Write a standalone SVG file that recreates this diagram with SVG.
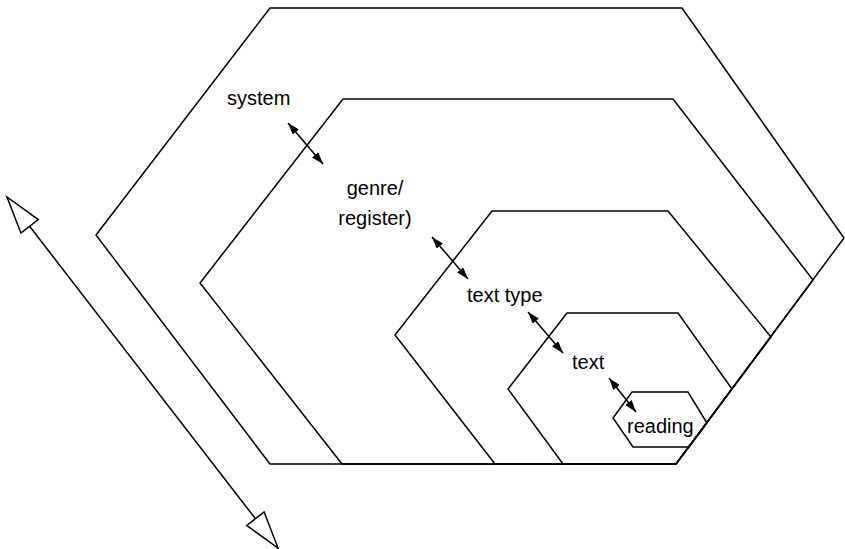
<svg xmlns="http://www.w3.org/2000/svg" width="845" height="549" viewBox="0 0 845 549">
<style>
.hex{fill:none;stroke:#000;stroke-width:1.5;stroke-linejoin:miter}
.lbl{font-family:"Liberation Sans",Arial,sans-serif;font-size:20px;fill:#000}
.sa{stroke:#000;stroke-width:1.5;fill:none;marker-start:url(#sh);marker-end:url(#sh)}
.ba{stroke:#000;stroke-width:1.5;fill:none;marker-start:url(#oh);marker-end:url(#oh)}
</style>
<defs>
<marker id="sh" markerUnits="userSpaceOnUse" viewBox="0 0 12 8" refX="12" refY="4" markerWidth="12" markerHeight="8" orient="auto-start-reverse">
<path d="M0,0 L12,4 L0,8 z" fill="#000"/>
</marker>
<marker id="oh" markerUnits="userSpaceOnUse" viewBox="-1 -1 39 24" refX="37" refY="11" markerWidth="39" markerHeight="24" orient="auto-start-reverse" overflow="visible">
<path d="M0,0 L37,11 L0,22 z" fill="#fff" stroke="#000" stroke-width="1.5"/>
</marker>
</defs>
<g id="system">
<polygon class="hex" points="270,8 682,8 844,238 676,464 270,464 96,235"/>
<text class="lbl" x="227" y="105">system</text>
</g>
<g id="genre">
<polygon class="hex" points="343,99 673,99 813,280 676,464 342,464 200,283"/>
<text class="lbl" x="375" y="195" text-anchor="middle">genre/</text>
<text class="lbl" x="375" y="225" text-anchor="middle">register)</text>
</g>
<g id="texttype">
<polygon class="hex" points="492,211 668,211 771,337 676,464 495,464 395,335"/>
<text class="lbl" x="467" y="302">text type</text>
</g>
<g id="text">
<polygon class="hex" points="567,313 678,313 732,389 676,464 563,464 508,389"/>
<text class="lbl" x="572" y="369">text</text>
</g>
<g id="reading">
<polygon class="hex" points="632,392 688,392 707,423 689,447 633,447 613,418"/>
<text class="lbl" x="627" y="433">reading</text>
</g>
<g id="connectors">
<line class="sa" x1="288" y1="123" x2="323" y2="164"/>
<line class="sa" x1="432" y1="237" x2="468" y2="279"/>
<line class="sa" x1="528" y1="312" x2="563" y2="353"/>
<line class="sa" x1="609" y1="378" x2="636" y2="412"/>
<line class="ba" x1="7" y1="197" x2="278" y2="548"/>
</g>
</svg>
